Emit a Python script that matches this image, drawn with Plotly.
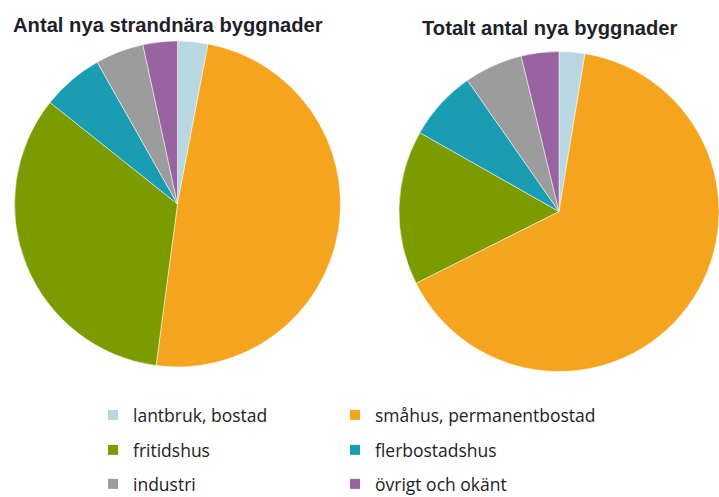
import plotly.graph_objects as go

# ---- data ----
categories = ["lantbruk, bostad", "småhus, permanentbostad", "fritidshus",
              "flerbostadshus", "industri", "övrigt och okänt"]
strand_values = [3.0, 49.1, 33.6, 6.1, 4.8, 3.4]   # Antal nya strandnära byggnader (%)
total_values = [2.6, 65.0, 15.6, 7.1, 5.9, 3.8]    # Totalt antal nya byggnader (%)
titles = ["Antal nya strandnära byggnader", "Totalt antal nya byggnader"]
colors = ["#B9D7E1", "#F4A41D", "#7B9C00", "#1A9DB2", "#9C9C9C", "#9962A0"]

W, H = 719, 497

fig = go.Figure()

pie_common = dict(sort=False, direction="clockwise", rotation=0, textinfo="none",
                  hoverinfo="label+percent", showlegend=False,
                  marker=dict(colors=colors, line=dict(color="white", width=0.5)))

fig.add_trace(go.Pie(labels=categories, values=strand_values, name=titles[0],
                     domain=dict(x=[14.5 / W, 340.5 / W], y=[130 / H, 456 / H]),
                     **pie_common))
fig.add_trace(go.Pie(labels=categories, values=total_values, name=titles[1],
                     domain=dict(x=[399 / W, 1.0], y=[125.5 / H, 445.5 / H]),
                     **pie_common))

# legend entries: one small legend per entry, laid out 2 columns x 3 rows
legend_ids = ["legend", "legend2", "legend3", "legend4", "legend5", "legend6"]
for i, (cat, col) in enumerate(zip(categories, colors)):
    fig.add_trace(go.Scatter(x=[None], y=[None], mode="markers", name=cat,
                             marker=dict(symbol="square", size=10, color=col),
                             legend=legend_ids[i], hoverinfo="skip"))

row_y = [415, 450, 484]
col_x = [93, 335]
leg_common = dict(orientation="h", xref="paper", yref="paper",
                  xanchor="left", yanchor="middle",
                  font=dict(family="Open Sans", size=17.5, color="#222222"),
                  bgcolor="rgba(0,0,0,0)", itemclick=False, itemdoubleclick=False)

legends = {}
for i, lid in enumerate(legend_ids):
    legends[lid] = dict(x=col_x[i % 2] / W, y=1 - row_y[i // 2] / H, **leg_common)

fig.update_layout(
    width=W, height=H,
    margin=dict(l=0, r=0, t=0, b=0, autoexpand=False),
    paper_bgcolor="white", plot_bgcolor="white",
    xaxis=dict(visible=False), yaxis=dict(visible=False),
    annotations=[
        dict(text="<b>" + titles[0] + "</b>", x=167.5 / W, y=1 - 25 / H,
             xref="paper", yref="paper", showarrow=False, xanchor="center", yanchor="middle",
             font=dict(family="Liberation Sans, Arial", size=20.2, color="#1f1f2a")),
        dict(text="<b>" + titles[1] + "</b>", x=550 / W, y=1 - 28 / H,
             xref="paper", yref="paper", showarrow=False, xanchor="center", yanchor="middle",
             font=dict(family="Liberation Sans, Arial", size=20.2, color="#1f1f2a")),
    ],
    **legends,
)

fig.write_html("out.html", config={"displayModeBar": False},
               post_script="document.body.style.margin='0px';")
